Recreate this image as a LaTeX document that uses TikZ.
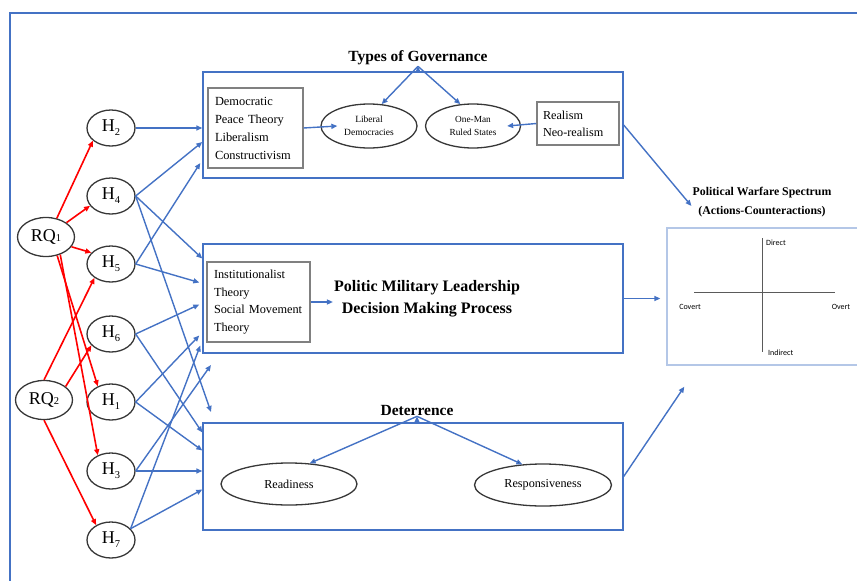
\documentclass[tikz,border=0pt]{standalone}
\usepackage{fontspec}
\setmainfont{Liberation Serif}
\newfontfamily\calibfont{Carlito}
\usetikzlibrary{shapes.geometric,arrows.meta}
\definecolor{wordblue}{RGB}{68,114,196}
\definecolor{lightframe}{RGB}{180,199,231}
\definecolor{boxgray}{RGB}{128,128,128}
\definecolor{ovalgray}{RGB}{55,55,55}
\definecolor{axisgray}{RGB}{90,90,90}
\newcommand{\fsz}[2]{\fontsize{#1}{#2}\selectfont}
\newcommand{\hname}[1]{H\raisebox{-4pt}{\fsz{10.5}{10.5}#1}}
\newcommand{\rqname}[1]{RQ{\fsz{10.5}{10.5}#1}}
\tikzstyle{hyp}=[ellipse, draw=ovalgray, line width=1.3pt, minimum width=48pt, minimum height=36pt, inner sep=0pt, font=\fsz{18}{18}]
\tikzstyle{rq}=[hyp, minimum width=57pt, minimum height=39pt]
\tikzstyle{panel}=[rectangle, draw=wordblue, line width=1.4pt, minimum width=420pt]
\tikzstyle{theory}=[rectangle, draw=boxgray, line width=1.1pt, align=left, inner xsep=7pt, font=\fsz{12.4}{18}]
\tikzstyle{oval}=[ellipse, draw=ovalgray, line width=1.3pt, inner sep=0pt, align=center]
\tikzstyle{heading}=[font=\bfseries\fsz{15.5}{22}, align=center, inner sep=1pt]
\tikzstyle{axislabel}=[font=\calibfont\fsz{8}{8}, inner sep=1pt]
\tikzstyle{redarr}=[->, draw=red, line width=1.6pt]
\tikzstyle{bluearr}=[->, draw=wordblue, line width=1.4pt]

\begin{document}
\begin{tikzpicture}[x=1pt, y=-1pt, >={Triangle[length=6pt,width=5pt]}]
\path[use as bounding box, clip] (0,0) rectangle (857,581);

% outer frame
\draw[wordblue, line width=1.6pt] (10,590) -- (10,13) -- (870,13);

% research questions and hypotheses
\node[rq](RQ1) at (46,237) {\rqname{1}};
\node[rq](RQ2) at (44,400) {\rqname{2}};
\node[hyp](H2) at (111,128) {\hname{2}};
\node[hyp](H4) at (111,196) {\hname{4}};
\node[hyp](H5) at (111,264) {\hname{5}};
\node[hyp](H6) at (111,334) {\hname{6}};
\node[hyp](H1) at (111,402) {\hname{1}};
\node[hyp](H3) at (111,471) {\hname{3}};
\node[hyp](H7) at (111,540) {\hname{7}};

% the three panels
\node[panel, minimum height=106pt](gov) at (413,125) {};
\node[panel, minimum height=109pt](pol) at (413,298.5) {};
\node[panel, minimum height=107pt](det) at (413,476.5) {};

\node[heading](govtitle) at (418,58) {Types of Governance};
\node[theory, text width=81pt, minimum height=80pt](dem) at (255.5,128) {Democratic\\Peace Theory\\Liberalism\\Constructivism};
\node[oval, minimum width=96pt, minimum height=44pt, font=\fsz{9.5}{13}](libdem) at (369,126) {Liberal\\Democracies};
\node[oval, minimum width=95pt, minimum height=44pt, font=\fsz{9.3}{13}](oneman) at (473,126) {One-Man\\Ruled States};
\node[theory, text width=70pt, inner xsep=6pt, minimum height=43pt, font=\fsz{12.2}{17}](realism) at (578,123.5) {Realism\\Neo-realism};

\node[theory, text width=89pt, minimum height=80pt, font=\fsz{12.3}{17.7}](inst) at (258.5,302) {Institutionalist\\Theory\\Social Movement\\Theory};
\node[heading, font=\bfseries\fsz{16}{22}](poltitle) at (427,299) {Politic Military Leadership\\Decision Making Process};

\node[heading](dettitle) at (417,410) {Deterrence};
\node[oval, minimum width=136pt, minimum height=42pt, font=\fsz{12.2}{14}](ready) at (289,484) {Readiness};
\node[oval, minimum width=137pt, minimum height=42pt, font=\fsz{12.2}{14}](resp) at (543,485) {Responsiveness};

% spectrum chart
\node[heading, font=\bfseries\fsz{11.8}{19}](spectitle) at (762,202) {Political Warfare Spectrum\\(Actions-Counteractions)};
\node[rectangle, draw=lightframe, line width=1.3pt, minimum width=210pt, minimum height=137pt](spectrum) at (772,296.5) {};
\draw[axisgray, line width=0.9pt] (762,238) -- (762,352);
\draw[axisgray, line width=0.9pt] (694,292) -- (835,292);
\node[axislabel, anchor=west](direct) at (765,243) {Direct};
\node[axislabel, anchor=west](indirect) at (767,353) {Indirect};
\node[axislabel](covert) at (690,307) {Covert};
\node[axislabel](overt) at (841,307) {Overt};

\coordinate (h4end) at (211,412);
\coordinate (h3end) at (211,365);

% red arrows
\path[redarr] (RQ1.60) -- (H2.215);
\path[redarr] (RQ1.35) -- (H4.205);
\path[redarr] (RQ1.-21) -- (H5.150);
\path[redarr] (RQ1.-59) -- (H1.130);
\path[redarr] (RQ1.-51) -- (H3.130);
\path[redarr] (RQ2.north) -- (H5.220);
\path[redarr] (RQ2.32) -- (H6.210);
\path[redarr] (RQ2.south) -- (H7.135);

% blue arrows into the panels
\path[bluearr] (H2.east) -- (H2.east -| gov.west);
\path[bluearr] (H4.east) -- ([yshift=-17pt]gov.west);
\path[bluearr] (H4.east) -- ([yshift=40pt]pol.west);
\path[bluearr] (H4.east) -- (h4end);
\path[bluearr] (H5.east) -- ([xshift=-2pt,yshift=-38pt]gov.west);
\path[bluearr] (H5.east) -- ([xshift=-3pt,yshift=16pt]pol.west);
\path[bluearr] (H6.east) -- ([xshift=-3pt,yshift=-6pt]pol.west);
\path[bluearr] (H6.east) -- ([yshift=44pt]det.west);
\path[bluearr] (H1.east) -- ([xshift=-3pt,yshift=-37pt]pol.west);
\path[bluearr] (H1.east) -- ([yshift=26pt]det.west);
\path[bluearr] (H3.east) -- (H3.east -| det.west);
\path[bluearr] (H3.east) -- (h3end);
\path[bluearr] (H7.30) -- ([xshift=-2pt,yshift=-47pt]pol.west);
\path[bluearr] (H7.30) -- ([yshift=-13pt]det.west);

% arrows inside the panels
\path[bluearr] (govtitle.south) edge (libdem.60) edge (oneman.120);
\path[bluearr] (dem.east) -- ([xshift=17pt]libdem.west);
\path[bluearr] (realism.west) -- ([xshift=-14pt]oneman.east);
\path[bluearr] (inst.east) -- (inst.east -| poltitle.west);
\path[bluearr] (dettitle.south) edge (ready.45) edge (resp.135);

% panels to the spectrum
\path[bluearr] (gov.east) -- ([yshift=-4pt]spectitle.west);
\path[bluearr, shorten >=6pt] (pol.east) -- (pol.east -| spectrum.west);
\path[bluearr] (det.east) -- ([xshift=18pt,yshift=-21pt]spectrum.south west);

\end{tikzpicture}
\end{document}
